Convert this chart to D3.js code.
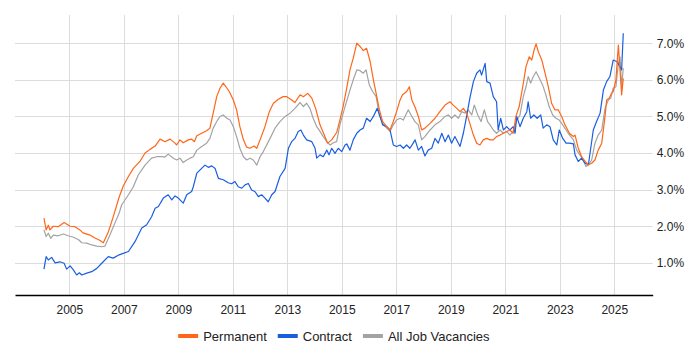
<!DOCTYPE html>
<html><head><meta charset="utf-8">
<script src="https://cdn.jsdelivr.net/npm/d3@7"></script>
<style>body{margin:0;background:#fff}svg{display:block;font-family:"Liberation Sans",Arial,sans-serif}</style>
</head><body><svg id="c" width="700" height="350"></svg>
<script>
const seriesNames = ["Permanent", "Contract", "All Job Vacancies"];
const yTickValues = [1, 2, 3, 4, 5, 6, 7];
const xTickYears = [2005, 2007, 2009, 2011, 2013, 2015, 2017, 2019, 2021, 2023, 2025];

const permDates = [2004.07,2004.15,2004.23,2004.29,2004.41,2004.59,2004.81,2005.03,2005.21,2005.39,2005.50,2005.76,2005.94,2006.13,2006.25,2006.42,2006.60,2006.83,2006.98,2007.17,2007.35,2007.59,2007.78,2007.96,2008.15,2008.33,2008.51,2008.70,2008.88,2008.94,2009.06,2009.18,2009.37,2009.49,2009.59,2009.68,2009.86,2010.04,2010.16,2010.28,2010.41,2010.53,2010.65,2010.75,2010.87,2011.02,2011.14,2011.26,2011.39,2011.51,2011.63,2011.78,2011.88,2012.00,2012.18,2012.34,2012.49,2012.67,2012.85,2012.98,2013.16,2013.28,2013.47,2013.59,2013.75,2013.90,2014.04,2014.20,2014.38,2014.48,2014.63,2014.81,2014.93,2015.06,2015.18,2015.30,2015.42,2015.55,2015.67,2015.79,2015.91,2016.04,2016.16,2016.26,2016.38,2016.50,2016.65,2016.77,2016.89,2017.01,2017.14,2017.23,2017.38,2017.48,2017.57,2017.69,2017.81,2017.93,2018.05,2018.24,2018.42,2018.60,2018.79,2018.97,2019.09,2019.22,2019.34,2019.46,2019.58,2019.70,2019.83,2019.95,2020.07,2020.19,2020.32,2020.44,2020.56,2020.68,2020.81,2020.93,2021.05,2021.17,2021.29,2021.39,2021.51,2021.64,2021.76,2021.88,2021.97,2022.06,2022.13,2022.21,2022.34,2022.46,2022.58,2022.70,2022.82,2022.94,2023.07,2023.19,2023.35,2023.50,2023.56,2023.68,2023.80,2023.93,2024.05,2024.17,2024.29,2024.41,2024.54,2024.66,2024.72,2024.82,2024.90,2024.96,2025.06,2025.15,2025.21,2025.27,2025.33];
const permValues = [2.22,1.90,2.03,1.90,2.00,1.99,2.10,2.00,1.99,1.90,1.82,1.76,1.68,1.61,1.55,1.82,2.23,2.80,3.10,3.36,3.58,3.77,4.00,4.10,4.19,4.38,4.31,4.38,4.27,4.22,4.36,4.28,4.36,4.38,4.31,4.47,4.54,4.61,4.68,5.09,5.54,5.77,5.91,5.81,5.68,5.45,5.18,4.72,4.36,4.16,4.13,4.19,4.13,4.36,4.72,5.13,5.36,5.47,5.54,5.54,5.45,5.38,5.59,5.54,5.63,5.50,5.22,4.77,4.45,4.27,4.36,4.56,4.90,5.31,5.77,6.27,6.59,7.00,6.91,6.80,6.86,6.50,6.00,5.63,5.18,4.86,4.72,4.63,4.86,5.13,5.45,5.59,5.68,5.81,5.45,5.25,5.00,4.63,4.68,4.81,4.95,5.13,5.31,5.40,5.31,5.22,5.13,5.22,5.09,4.81,4.49,4.27,4.22,4.36,4.40,4.36,4.36,4.45,4.49,4.54,4.59,4.63,4.54,5.00,5.27,5.81,6.36,6.63,6.54,6.82,6.98,6.77,6.54,6.18,5.81,5.36,5.18,5.18,5.00,4.77,4.54,4.45,4.49,4.13,3.90,3.77,3.68,3.72,3.81,4.08,4.27,5.00,5.45,5.50,5.63,5.68,6.00,6.95,6.27,5.59,6.04];

const contDates = [2004.07,2004.15,2004.23,2004.35,2004.48,2004.66,2004.81,2004.90,2005.03,2005.15,2005.27,2005.37,2005.46,2005.64,2005.82,2006.01,2006.19,2006.43,2006.61,2006.83,2006.98,2007.17,2007.41,2007.66,2007.84,2008.02,2008.15,2008.27,2008.45,2008.63,2008.76,2008.88,2009.00,2009.18,2009.31,2009.49,2009.55,2009.68,2009.80,2009.98,2010.10,2010.23,2010.35,2010.47,2010.65,2010.83,2010.96,2011.08,2011.20,2011.33,2011.45,2011.57,2011.69,2011.81,2011.94,2012.06,2012.18,2012.30,2012.43,2012.55,2012.73,2012.92,2013.04,2013.16,2013.28,2013.40,2013.50,2013.59,2013.71,2013.90,2014.02,2014.08,2014.20,2014.32,2014.45,2014.53,2014.63,2014.75,2014.87,2015.00,2015.12,2015.18,2015.30,2015.42,2015.55,2015.67,2015.79,2015.91,2016.04,2016.16,2016.30,2016.40,2016.50,2016.65,2016.77,2016.89,2017.01,2017.14,2017.26,2017.38,2017.50,2017.62,2017.69,2017.81,2017.93,2018.05,2018.17,2018.30,2018.42,2018.54,2018.67,2018.79,2018.91,2019.03,2019.15,2019.34,2019.46,2019.58,2019.70,2019.83,2019.95,2020.07,2020.13,2020.26,2020.32,2020.44,2020.56,2020.68,2020.74,2020.83,2020.93,2021.05,2021.17,2021.29,2021.36,2021.42,2021.54,2021.66,2021.79,2021.84,2021.93,2022.05,2022.17,2022.30,2022.39,2022.52,2022.64,2022.76,2022.89,2022.98,2023.11,2023.23,2023.35,2023.50,2023.56,2023.68,2023.80,2023.93,2024.05,2024.23,2024.35,2024.48,2024.60,2024.72,2024.84,2024.96,2025.09,2025.21,2025.27,2025.33];
const contValues = [0.83,1.17,1.08,1.15,1.00,1.03,0.99,0.83,0.92,0.81,0.67,0.73,0.67,0.72,0.76,0.85,0.99,1.17,1.13,1.22,1.26,1.31,1.58,1.95,2.04,2.26,2.49,2.54,2.77,2.86,2.72,2.83,2.77,2.63,2.86,2.95,3.08,3.45,3.54,3.67,3.61,3.65,3.58,3.31,3.27,3.19,3.16,3.22,3.08,3.04,3.13,3.17,2.99,2.95,2.81,2.86,2.77,2.67,2.86,2.95,3.36,3.58,4.13,4.31,4.40,4.59,4.63,4.49,4.36,4.31,4.13,3.86,3.95,3.90,4.08,3.95,4.13,3.99,4.13,4.04,4.22,4.25,4.08,4.36,4.54,4.63,4.68,4.95,4.86,5.00,5.22,5.00,4.77,4.72,4.63,4.22,4.18,4.22,4.13,4.22,4.13,4.27,4.36,4.08,4.18,3.92,4.08,4.13,4.40,4.27,4.54,4.31,4.49,4.27,4.45,4.18,4.54,5.00,5.50,5.95,6.18,6.27,6.13,6.45,5.95,5.91,5.54,5.40,4.63,4.95,4.63,4.72,4.63,4.72,4.54,5.00,4.72,4.95,5.13,5.40,4.95,5.04,4.95,5.04,4.68,4.77,4.72,4.36,4.22,4.63,4.40,4.27,4.27,4.25,3.95,3.77,3.86,3.72,3.68,4.63,4.86,5.09,5.72,5.95,6.09,6.54,6.50,6.36,6.27,7.27];

const allDates = [2004.07,2004.15,2004.23,2004.32,2004.41,2004.59,2004.78,2004.96,2005.15,2005.33,2005.46,2005.64,2005.82,2006.01,2006.19,2006.31,2006.49,2006.68,2006.83,2006.92,2007.17,2007.35,2007.53,2007.78,2008.02,2008.21,2008.39,2008.51,2008.63,2008.82,2008.94,2009.06,2009.18,2009.31,2009.43,2009.55,2009.68,2009.86,2010.04,2010.16,2010.28,2010.41,2010.53,2010.65,2010.78,2010.90,2011.02,2011.14,2011.26,2011.39,2011.51,2011.63,2011.75,2011.88,2012.00,2012.12,2012.34,2012.55,2012.73,2012.92,2013.10,2013.28,2013.47,2013.59,2013.71,2013.83,2013.95,2014.08,2014.20,2014.32,2014.45,2014.57,2014.69,2014.81,2014.93,2015.12,2015.30,2015.42,2015.55,2015.67,2015.79,2015.89,2016.01,2016.13,2016.26,2016.38,2016.50,2016.65,2016.77,2016.89,2017.01,2017.14,2017.26,2017.44,2017.57,2017.69,2017.81,2017.93,2018.05,2018.24,2018.42,2018.60,2018.79,2018.91,2019.03,2019.15,2019.28,2019.40,2019.52,2019.64,2019.77,2019.86,2019.99,2020.11,2020.23,2020.35,2020.44,2020.56,2020.68,2020.81,2020.93,2021.05,2021.17,2021.29,2021.42,2021.54,2021.66,2021.76,2021.84,2021.93,2022.03,2022.13,2022.25,2022.37,2022.49,2022.61,2022.74,2022.86,2022.98,2023.11,2023.23,2023.31,2023.50,2023.62,2023.74,2023.86,2023.96,2024.05,2024.17,2024.29,2024.41,2024.54,2024.66,2024.78,2024.87,2024.96,2025.06,2025.15,2025.21,2025.27,2025.33];
const allValues = [1.90,1.72,1.81,1.67,1.76,1.74,1.79,1.74,1.70,1.64,1.55,1.54,1.49,1.46,1.44,1.46,1.76,2.10,2.36,2.58,2.86,3.08,3.40,3.67,3.86,3.90,3.90,3.89,3.97,3.86,3.81,3.86,3.74,3.81,3.86,3.90,4.08,4.18,4.27,4.40,4.68,4.86,5.00,5.04,4.95,4.90,4.72,4.45,4.13,3.90,3.81,3.86,3.81,3.67,3.90,4.04,4.36,4.68,4.86,5.00,5.09,5.22,5.38,5.27,5.36,5.22,4.95,4.72,4.59,4.45,4.31,4.22,4.28,4.31,4.77,5.27,5.72,6.00,6.27,6.25,6.18,6.27,5.86,5.68,5.54,5.04,4.81,4.68,4.59,4.77,4.90,4.95,4.90,5.18,5.00,4.85,4.77,4.36,4.45,4.63,4.77,4.86,5.00,5.04,4.95,5.04,4.95,5.13,5.09,5.18,5.04,5.31,5.04,4.86,5.18,4.86,4.77,4.63,4.54,4.63,4.54,4.59,4.49,4.59,4.90,5.04,5.54,5.81,6.09,5.91,6.09,6.22,6.04,5.86,5.59,5.27,5.04,4.95,4.90,4.77,4.63,4.54,4.36,4.08,3.95,3.81,3.63,3.68,3.81,4.27,4.49,4.63,5.22,5.45,5.50,5.77,5.81,6.45,6.63,5.81,6.32];

const colors = ["#ff6619", "#1a5ee0", "#a3a3a3"];

const svg = d3.select("#c");
const mLeft = 15, mRight = 652.7, mTop = 15, mBottom = 295;
const x = d3.scaleLinear().domain([2003.007, 2026.41]).range([mLeft, mRight]);
const y = d3.scaleLinear().domain([0.123, 7.77]).range([mBottom, mTop]);

// grid
svg.append("g").selectAll("line").data(yTickValues).join("line")
  .attr("x1", mLeft).attr("x2", mRight)
  .attr("y1", d => Math.round(y(d)) + 0.5).attr("y2", d => Math.round(y(d)) + 0.5)
  .attr("stroke", "#dcdcdc").attr("stroke-width", 1);
svg.append("g").selectAll("line").data(xTickYears).join("line")
  .attr("x1", d => Math.round(x(d)) + 0.5).attr("x2", d => Math.round(x(d)) + 0.5)
  .attr("y1", mTop).attr("y2", mBottom)
  .attr("stroke", "#dcdcdc").attr("stroke-width", 1);

// axes
const xAxis = d3.axisBottom(x).tickValues(xTickYears).tickFormat(d3.format("d")).tickSize(0).tickPadding(10);
const gx = svg.append("g").attr("transform", `translate(0,${mBottom})`).call(xAxis);
gx.select(".domain").attr("stroke", "#000").attr("stroke-width", 1.3);
gx.selectAll("text").attr("font-size", 12).attr("fill", "#222").attr("font-family", '"Liberation Sans",Arial,sans-serif');

const yAxis = d3.axisRight(y).tickValues(yTickValues).tickFormat(d => d.toFixed(1) + "%").tickSize(0).tickPadding(4);
const gy = svg.append("g").attr("transform", `translate(${mRight},0)`).call(yAxis);
gy.select(".domain").remove();
gy.selectAll("text").attr("font-size", 12).attr("fill", "#222").attr("font-family", '"Liberation Sans",Arial,sans-serif');

// lines
const seriesData = [
  d3.zip(permDates, permValues),
  d3.zip(contDates, contValues),
  d3.zip(allDates, allValues)
];
const line = d3.line().x(d => x(d[0])).y(d => y(d[1]));
const order = [2, 1, 0];
order.forEach(i => {
  svg.append("path").datum(seriesData[i])
    .attr("d", line).attr("fill", "none")
    .attr("stroke", colors[i]).attr("stroke-width", 1.2)
    .attr("stroke-linejoin", "round");
});

// legend
const lg = svg.append("g");
let cx = 0;
seriesNames.forEach((n, i) => {
  const g = lg.append("g").attr("transform", `translate(${cx},0)`);
  g.append("rect").attr("x", 0).attr("y", -2).attr("width", 20).attr("height", 4).attr("fill", colors[i]);
  const t = g.append("text").attr("x", 25).attr("y", 0).attr("dy", "0.35em")
    .attr("font-size", 13).attr("fill", "#222").text(n);
  const w = t.node().getComputedTextLength();
  cx += 25 + w + 11;
});
const totalW = cx - 11;
lg.attr("transform", `translate(${(mLeft + mRight) / 2 - totalW / 2},336)`);
</script></body></html>
